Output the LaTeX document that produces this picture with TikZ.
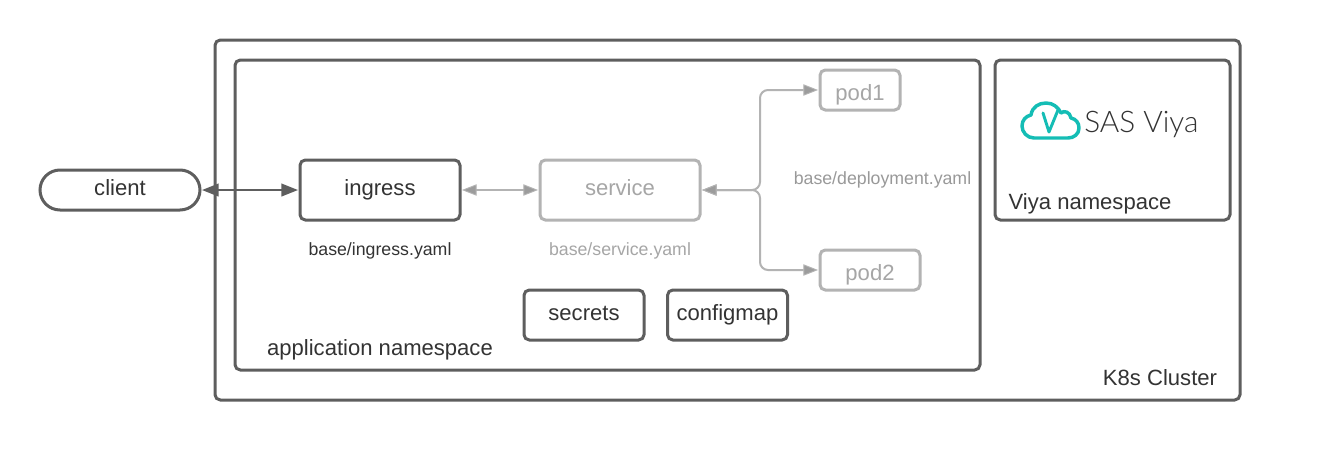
\documentclass[tikz,border=0pt]{standalone}
\usepackage{fontspec}
\setmainfont{Liberation Sans}
\newfontfamily\logofont{Lato Light}
\usetikzlibrary{arrows.meta}
\definecolor{darkline}{HTML}{5E5E5E}
\definecolor{lightline}{HTML}{B3B3B3}
\definecolor{headgrey}{HTML}{9C9C9C}
\definecolor{labelgrey}{HTML}{A6A6A6}
\definecolor{deploygrey}{HTML}{999999}
\definecolor{textdark}{HTML}{333333}
\definecolor{teal}{HTML}{14BDB5}
\tikzset{
  x=0.75pt,y=-0.75pt,
  box/.style={draw=darkline,line width=2.25pt,rounded corners=4pt,outer sep=0pt,inner sep=0pt,fill=white,
    text=textdark,font=\fontsize{16.55pt}{19pt}\selectfont,text height=12pt,text depth=4.5pt},
  fadedbox/.style={box,draw=lightline,text=labelgrey},
  podbox/.style={fadedbox,text height=16pt,text depth=1pt},
  caption/.style={inner sep=0pt,anchor=base,text=textdark,font=\fontsize{16.55pt}{19pt}\selectfont},
  small/.style={inner sep=0pt,anchor=base,text=textdark,font=\fontsize{13.3pt}{16pt}\selectfont},
  fadedsmall/.style={small,text=labelgrey},
  darktip/.tip={Triangle[length=12.5pt,width=9.5pt,color=darkline,fill=darkline]},
  lighttip/.tip={Triangle[length=11pt,width=8.5pt,color=lightline,fill=headgrey,line width=.7pt]},
  link/.style={draw=darkline,line width=1.5pt,darktip-darktip,shorten <=1.5pt,shorten >=1.5pt},
  fadedlink/.style={draw=lightline,line width=1.5pt,lighttip-lighttip,shorten <=1.5pt,shorten >=1.5pt},
  branchlink/.style={fadedlink,rounded corners=6pt},
}
\begin{document}
\begin{tikzpicture}
\useasboundingbox (0,0) rectangle (1320,450);
\node[box,minimum width=768.75pt,minimum height=270pt] (cluster) at (727.5,220) {};
\node[box,minimum width=558.75pt,minimum height=232.5pt] (appns) at (607.5,215) {};
\node[box,minimum width=176.25pt,minimum height=120pt] (viyans) at (1112.5,140) {};
\node[box,rounded corners=15pt,minimum width=120pt,minimum height=30pt] (client) at (120,190) {client};
\node[box,minimum width=120pt,minimum height=45pt] (ingress) at (380,190) {ingress};
\node[fadedbox,minimum width=120pt,minimum height=45pt] (service) at (620,190) {service};
\node[podbox,minimum width=60pt,minimum height=30pt] (pod1) at (860,90) {pod1};
\node[podbox,minimum width=75pt,minimum height=30pt] (pod2) at (870,270) {pod2};
\node[box,minimum width=90pt,minimum height=37.5pt] (secrets) at (584,315) {secrets};
\node[box,minimum width=90pt,minimum height=37.5pt] (configmap) at (727.5,315) {configmap};
\node[caption] (k8slabel) at (1160,385) {K8s Cluster};
\node[caption] (applabel) at (380,355) {application namespace};
\node[caption] (viyalabel) at (1090,209) {Viya namespace};
\node[small] (ingresslabel) at (380,255) {base/ingress.yaml};
\node[fadedsmall] (servicelabel) at (620,255) {base/service.yaml};
\node[fadedsmall,text=deploygrey] (deploylabel) at (882.5,184) {base/deployment.yaml};
\coordinate (branch) at (760,190);
\draw[link] (client.east) -- (ingress.west);
\draw[fadedlink] (ingress.east) -- (service.west);
\draw[branchlink] (service.east) -- (branch) |- (pod1.west);
\draw[branchlink] (service.east) -- (branch) |- (pod2.west);
% logo
\draw[teal,line width=2.6pt,line cap=round,line join=round]
  (1034,138) .. controls (1027,138) and (1022,132) .. (1022,126)
  .. controls (1022,120) and (1026,116) .. (1031,115)
  .. controls (1032,107) and (1039,103) .. (1046,103)
  .. controls (1053,103) and (1058,107) .. (1061,113)
  .. controls (1064,110) and (1070,112) .. (1071,118)
  .. controls (1076,119) and (1079,123) .. (1079,128)
  .. controls (1079,134) and (1074,138) .. (1068,138) -- cycle;
\draw[teal,line width=2.2pt,line cap=round,line join=round]
  (1043,113) -- (1049,132) -- (1058,110);
\node[inner sep=0pt,anchor=base west,text=textdark,font=\logofont\fontsize{22.3pt}{25pt}\selectfont] (logotext) at (1084,132) {SAS Viya};
\end{tikzpicture}
\end{document}
